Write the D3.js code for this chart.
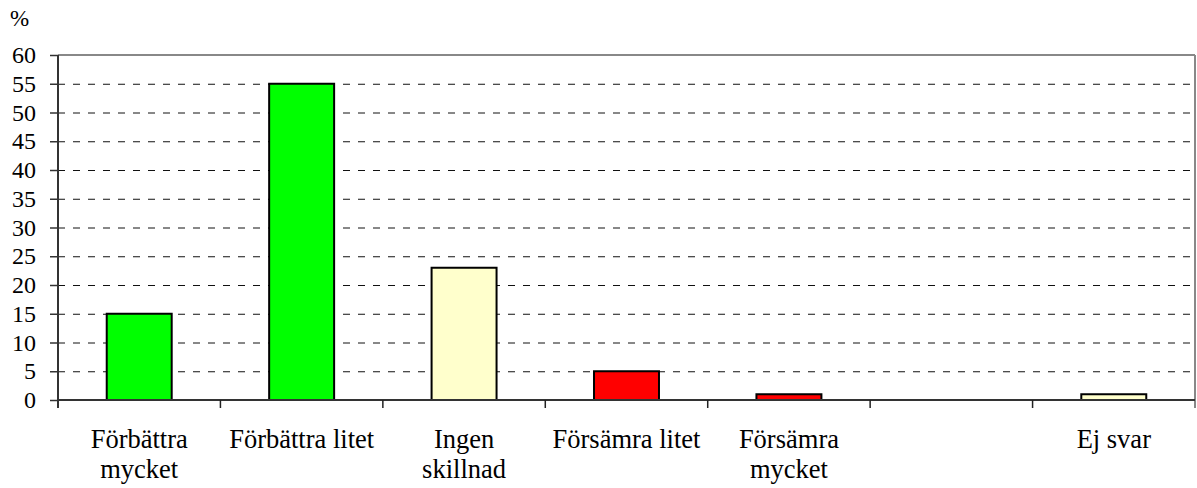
<!DOCTYPE html>
<head>
    <meta charset="utf-8">
    <title>Bar Chart</title>
    <script type="text/javascript" src="https://d3js.org/d3.v7.min.js"></script>
</head>
<body style="margin:0">
<div id="container"></div>

<script>
    //-----------------------------DATA-----------------------------//
    const categories = ["Förbättra mycket", "Förbättra litet", "Ingen skillnad", "Försämra litet", "Försämra mycket", "", "Ej svar"];
    const labelLines = [["Förbättra", "mycket"], ["Förbättra litet"], ["Ingen", "skillnad"], ["Försämra litet"], ["Försämra", "mycket"], [""], ["Ej svar"]];
    const values = [15, 55, 23, 5, 1, null, 1];
    const yTicks = [0, 5, 10, 15, 20, 25, 30, 35, 40, 45, 50, 55, 60];
    const barColors = ["#00ff00", "#00ff00", "#ffffcc", "#ff0000", "#ff0000", "#ffffcc", "#ffffcc"];

    const FONT = "'Liberation Serif'";

    //-----------------------------SVG------------------------------//
    const width = 1197;
    const height = 488;
    const margin = {top: 55, right: 2, bottom: 88, left: 58};
    const innerW = width - margin.left - margin.right;
    const innerH = height - margin.top - margin.bottom;

    const svg = d3.select("div#container").append("svg")
        .attr("width", width)
        .attr("height", height);

    const g = svg.append("g")
        .attr("transform", "translate(" + margin.left + "," + margin.top + ")");

    //----------------------------SCALES----------------------------//
    const xScale = d3.scaleBand().domain(d3.range(categories.length)).range([0, innerW]).padding(0);
    const yScale = d3.scaleLinear().domain([0, 60]).range([innerH, 0]);
    const barW = xScale.bandwidth() * 0.4;

    //---------------------------GRIDLINES--------------------------//
    g.selectAll(".grid")
        .data(yTicks.filter(function(t) { return t > 0 && t < 60; }))
        .enter().append("line")
        .attr("x1", 0).attr("x2", innerW)
        .attr("y1", function(d) { return yScale(d) + 0.5; })
        .attr("y2", function(d) { return yScale(d) + 0.5; })
        .attr("stroke", "#111")
        .attr("stroke-dasharray", "7,8");

    // top and right frame
    g.append("line")
        .attr("x1", 0).attr("x2", innerW)
        .attr("y1", yScale(60)).attr("y2", yScale(60))
        .attr("stroke", "#888").attr("stroke-width", 2);
    g.append("line")
        .attr("x1", innerW).attr("x2", innerW)
        .attr("y1", yScale(60)).attr("y2", yScale(0) + 8)
        .attr("stroke", "#888").attr("stroke-width", 2);

    //-----------------------------BARS-----------------------------//
    g.selectAll(".bar")
        .data(values.map(function(v, i) { return {i: i, v: v}; }).filter(function(d) { return d.v !== null; }))
        .enter().append("rect")
        .attr("x", function(d) { return xScale(d.i) + (xScale.bandwidth() - barW) / 2; })
        .attr("y", function(d) { return yScale(d.v); })
        .attr("width", barW)
        .attr("height", function(d) { return yScale(0) - yScale(d.v); })
        .attr("fill", function(d) { return barColors[d.i]; })
        .attr("stroke", "#000")
        .attr("stroke-width", 2);

    //-----------------------------AXES-----------------------------//
    const yaxis = d3.axisLeft(yScale)
        .tickValues(yTicks)
        .tickSize(8)
        .tickPadding(14);

    const yg = g.append("g").call(yaxis);
    yg.select(".domain").remove();
    yg.selectAll(".tick line").attr("stroke", "#333").attr("stroke-width", 1.5);
    yg.selectAll(".tick text")
        .attr("fill", "#000")
        .style("font-family", FONT)
        .style("font-size", "24px");

    // left axis line
    g.append("line")
        .attr("x1", 0).attr("x2", 0)
        .attr("y1", yScale(60)).attr("y2", yScale(0) + 8)
        .attr("stroke", "#333").attr("stroke-width", 2);

    // bottom axis line
    g.append("line")
        .attr("x1", 0).attr("x2", innerW)
        .attr("y1", yScale(0)).attr("y2", yScale(0))
        .attr("stroke", "#333").attr("stroke-width", 2);

    // category boundary ticks
    g.selectAll(".xtick")
        .data(d3.range(1, categories.length))
        .enter().append("line")
        .attr("x1", function(d) { return xScale(d); })
        .attr("x2", function(d) { return xScale(d); })
        .attr("y1", yScale(0)).attr("y2", yScale(0) + 8)
        .attr("stroke", "#222").attr("stroke-width", 1.5);

    // category labels
    const labels = g.selectAll(".xlabel")
        .data(labelLines)
        .enter().append("text")
        .attr("text-anchor", "middle")
        .style("font-family", FONT)
        .style("font-size", "26.5px")
        .attr("transform", function(d, i) {
            return "translate(" + (xScale(i) + xScale.bandwidth() / 2) + "," + (yScale(0) + 48) + ")";
        });

    labels.selectAll("tspan")
        .data(function(d) { return d; })
        .enter().append("tspan")
        .attr("x", 0)
        .attr("dy", function(d, i) { return i === 0 ? 0 : 30; })
        .text(function(d) { return d; });

    // unit label
    svg.append("text")
        .attr("x", 10).attr("y", 26)
        .style("font-family", FONT)
        .style("font-size", "23px")
        .text("%");
</script>
</body>
